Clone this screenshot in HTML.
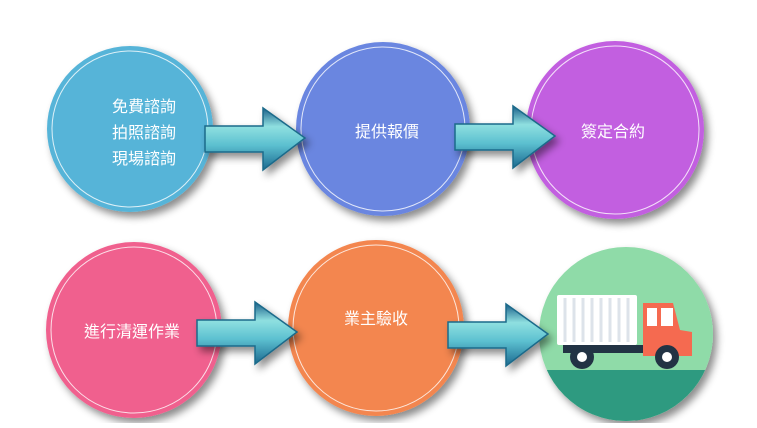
<!DOCTYPE html><html><head><meta charset="utf-8"><style>
body{margin:0;width:757px;height:423px;background:#fff;overflow:hidden;font-family:"Liberation Sans","Noto Sans CJK TC",sans-serif}
</style></head><body>
<svg width="757" height="423" xmlns="http://www.w3.org/2000/svg">
<defs>
<filter id="sh" x="-20%" y="-20%" width="150%" height="150%"><feDropShadow dx="4" dy="5" stdDeviation="4" flood-color="#000" flood-opacity="0.45"/></filter>
<linearGradient id="ag" x1="0" y1="0" x2="0" y2="1"><stop offset="0" stop-color="#1a5e8a"/><stop offset="0.3" stop-color="#8fe0e0"/><stop offset="0.6" stop-color="#5cc0d0"/><stop offset="1" stop-color="#1c6a90"/></linearGradient>
<clipPath id="c6"><circle cx="626" cy="334" r="87"/></clipPath>
<g id="arr"><path d="M0,18 L58,18 L58,0 L100,30 L58,62 L58,44 L0,44 Z" fill="url(#ag)" stroke="#1b6a8a" stroke-width="1.5" filter="url(#sh)"/></g>
</defs>
<g filter="url(#sh)">
<circle cx="130" cy="129" r="83" fill="#56b4d8"/>
<circle cx="383" cy="129" r="87" fill="#6b86e0"/>
<circle cx="615" cy="130" r="89" fill="#c25fe0"/>
<circle cx="134" cy="330" r="88" fill="#f0608e"/>
<circle cx="376" cy="328" r="88" fill="#f38650"/>
<circle cx="626" cy="334" r="87" fill="#8fdba8"/>
</g>
<g fill="none" stroke="#fff" stroke-opacity="0.8" stroke-width="1">
<circle cx="130" cy="129" r="78"/><circle cx="383" cy="129" r="82"/><circle cx="615" cy="130" r="84"/>
<circle cx="134" cy="330" r="83"/><circle cx="376" cy="328" r="83"/>
</g>
<g clip-path="url(#c6)">
<rect x="530" y="370" width="200" height="60" fill="#2e9a80"/>
<rect x="557" y="295" width="80" height="50" rx="2" fill="#fff"/>
<g stroke="#dde3ea" stroke-width="3"><line x1="565" y1="298" x2="565" y2="342"/><line x1="574" y1="298" x2="574" y2="342"/><line x1="583" y1="298" x2="583" y2="342"/><line x1="592" y1="298" x2="592" y2="342"/><line x1="601" y1="298" x2="601" y2="342"/><line x1="610" y1="298" x2="610" y2="342"/><line x1="619" y1="298" x2="619" y2="342"/><line x1="628" y1="298" x2="628" y2="342"/></g>
<rect x="563" y="345" width="80" height="8" fill="#223344"/>
<path d="M643,303 L673,303 L680,330 L692,332 L692,356 L643,356 Z" fill="#f56a50"/>
<rect x="647" y="308" width="10" height="18" fill="#fff"/><rect x="661" y="308" width="12" height="18" fill="#fff"/>
<circle cx="582" cy="357" r="12" fill="#223344"/><circle cx="582" cy="357" r="5" fill="#fff"/>
<circle cx="667" cy="357" r="12" fill="#223344"/><circle cx="667" cy="357" r="5" fill="#fff"/>
</g>
<use href="#arr" transform="translate(205,108)"/>
<use href="#arr" transform="translate(455,106)"/>
<use href="#arr" transform="translate(197,302)"/>
<use href="#arr" transform="translate(448,304)"/>
<g fill="#fff" font-size="16" text-anchor="middle" font-family="Liberation Sans,Noto Sans CJK TC,sans-serif">
<text x="144" y="112">免費諮詢</text><text x="144" y="138">拍照諮詢</text><text x="144" y="164">現場諮詢</text>
<text x="387" y="137">提供報價</text><text x="613" y="137">簽定合約</text>
<text x="132" y="337">進行清運作業</text><text x="376" y="324">業主驗收</text>
</g>
</svg>
</body></html>
